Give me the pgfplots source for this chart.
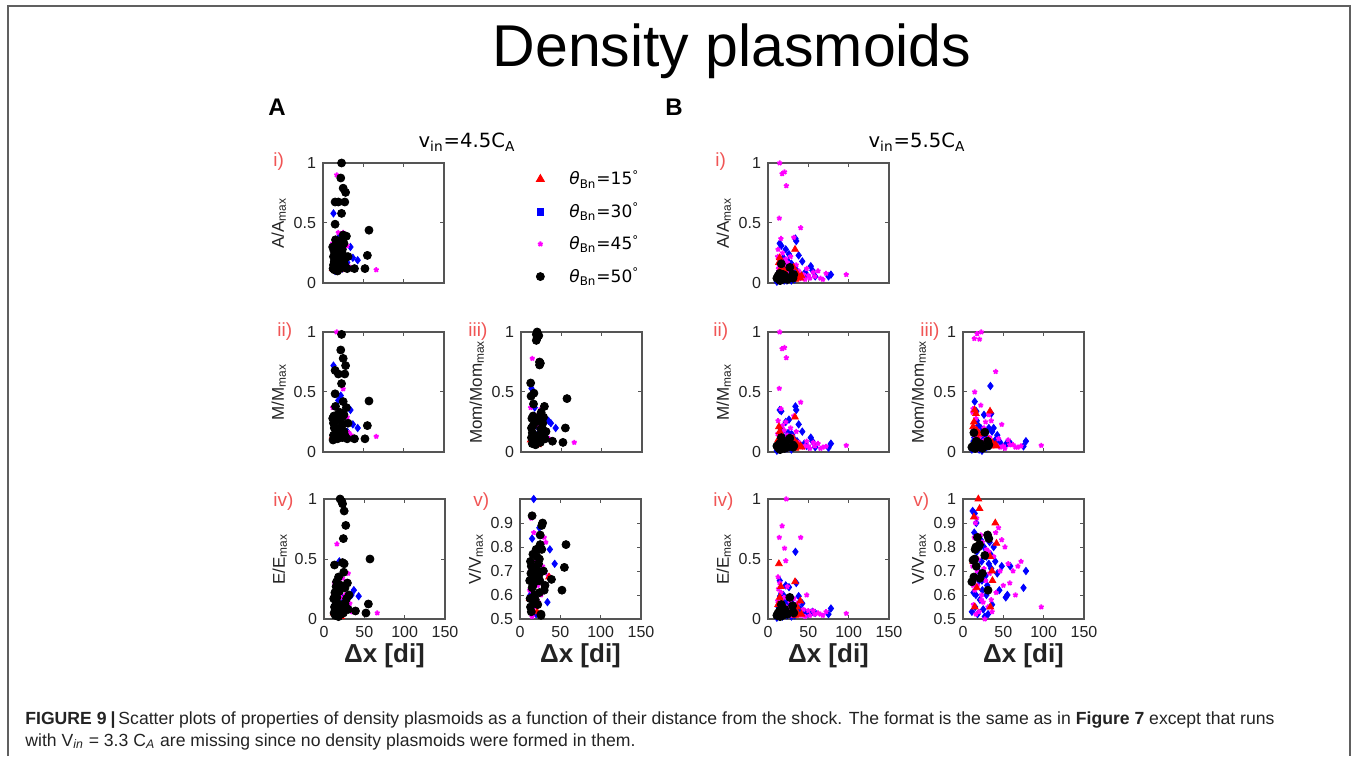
\documentclass[border=0pt]{standalone}
\usepackage{fontspec}
\setmainfont{Liberation Sans}
\newfontfamily\dejavu{DejaVu Sans}
\usepackage{pgfplots}
\usepackage{pgfplotstable}
\pgfplotsset{compat=1.18}

\definecolor{numred}{RGB}{240,85,85}
\definecolor{axgray}{RGB}{85,85,85}
\definecolor{capgray}{RGB}{35,35,35}
\definecolor{mag}{RGB}{255,0,255}
\definecolor{pureblue}{RGB}{0,0,255}
\definecolor{purered}{RGB}{255,0,0}

% columns: dx, A/Amax, M/Mmax, Mom/Mommax, E/Emax, V/Vmax
% ---------- v_in = 4.5 C_A ----------
\pgfplotstableread{
x a m mo e v
12 0.30 0.28 0.575 0.17 0.66
12.5 0.12 0.10 0.465 0.05 0.585
13 0.22 0.24 0.20 0.45 0.74
13 0.15 0.14 0.12 0.10 0.55
13.5 0.27 0.30 0.28 0.22 0.69
14 0.18 0.20 0.16 0.08 0.72
14 0.11 0.12 0.07 0.03 0.53
15 0.675 0.68 0.30 0.27 0.93
15 0.49 0.485 0.22 0.14 0.63
16 0.25 0.26 0.49 0.18 0.77
16 0.13 0.15 0.09 0.06 0.64
17 0.20 0.18 0.14 0.12 0.67
18 0.32 0.31 0.25 0.35 0.60
19 0.675 0.65 0.98 0.23 0.68
19 0.15 0.16 0.93 0.07 0.58
20 0.22 0.20 0.95 0.12 0.72
21 0.12 0.13 0.10 0.04 0.705
21 0.35 0.33 0.27 0.28 0.76
22 0.875 0.85 0.97 0.98 0.66
22 0.17 0.19 0.13 0.09 0.56
23 1.00 0.98 0.75 0.96 0.73
23 0.58 0.57 0.725 0.47 0.68
24 0.28 0.29 0.74 0.67 0.75
24 0.13 0.12 0.08 0.05 0.61
25 0.79 0.78 0.31 0.90 0.85
25 0.40 0.42 0.33 0.46 0.81
26 0.19 0.17 0.15 0.13 0.515
26 0.33 0.31 0.20 0.26 0.52
27 0.675 0.65 0.24 0.78 0.89
28 0.755 0.72 0.29 0.17 0.90
29 0.39 0.37 0.38 0.30 0.70
30 0.12 0.11 0.11 0.08 0.62
31 0.22 0.24 0.17 0.20 0.64
39 0.12 0.11 0.09 0.067 0.665
52 0.12 0.11 0.08 0.05 0.62
55 0.23 0.22 0.20 0.125 0.715
57 0.44 0.425 0.445 0.50 0.81
18 0.10 0.11 0.06 0.02 0.57
20 0.30 0.28 1.00 1.00 0.79
27 0.15 0.14 0.12 0.10 0.79
15.5 0.36 0.38 0.40 0.31 0.70
24.5 0.24 0.23 0.19 0.39 0.66
}\Ablack

\pgfplotstableread{
x a m mo e v
12 0.33 0.37 0.37 0.20 0.62
13 0.25 0.25 0.12 0.30 0.70
14 0.18 0.20 0.78 0.10 0.92
15 0.12 0.12 0.20 0.15 0.51
16 0.28 0.30 0.10 0.625 0.60
17 0.90 1.00 0.15 0.08 0.86
18 0.17 0.19 0.26 0.25 0.74
19 0.42 0.33 0.30 0.12 0.55
20 0.22 0.34 0.11 0.05 0.78
21 0.125 0.15 0.22 0.18 0.73
22 0.30 0.22 0.14 0.27 0.64
23 0.15 0.12 0.09 0.34 0.57
25 0.42 0.525 0.36 0.10 0.66
26 0.20 0.18 0.12 0.20 0.60
28 0.13 0.12 0.15 0.07 0.72
30 0.31 0.29 0.10 0.38 0.84
32 0.14 0.16 0.18 0.13 0.82
35 0.12 0.14 0.11 0.06 0.68
66 0.11 0.13 0.08 0.05 nan
}\Amag

\pgfplotstableread{
x a m mo e v
13 0.58 0.72 0.53 0.12 0.60
15 0.10 0.25 0.30 0.05 0.835
17 0.24 0.20 0.37 0.27 1.00
19 0.375 0.43 0.22 0.48 0.65
20 0.14 0.12 0.12 0.20 0.52
22 0.33 0.47 0.16 0.09 0.745
24 0.12 0.14 0.10 0.16 0.88
30 0.17 0.17 0.14 0.10 0.63
34 0.30 0.35 0.26 0.20 0.57
37 0.21 0.23 0.24 0.24 0.79
43 0.19 0.20 0.20 0.19 0.73
}\Ablue

\pgfplotstableread{
x a m mo e v
12 0.12 0.13 0.10 0.05 0.585
21 0.11 0.12 0.06 0.02 0.53
36 nan nan nan nan 0.675
}\Ared

% ---------- v_in = 5.5 C_A ----------
\pgfplotstableread{
x a m mo e v
12 0.03 0.02 0.04 0.03 0.95
13 0.08 0.06 0.09 0.10 0.61
14.5 0.33 0.35 0.42 0.32 0.94
16.5 0.31 0.34 0.34 0.21 0.90
15 0.18 0.20 0.15 0.19 0.55
17 0.12 0.10 0.26 0.08 0.78
18 0.05 0.04 0.05 0.02 0.52
19 0.21 0.18 0.22 0.20 0.70
20 0.02 0.03 0.02 0.05 0.66
21 0.14 0.12 0.10 0.14 0.58
22 0.28 0.25 0.20 0.28 0.83
23 0.09 0.07 0.12 0.07 0.74
24 0.04 0.05 0.03 0.04 0.62
25 0.18 0.16 0.14 0.12 0.54
26 0.24 0.27 0.31 0.265 0.80
27 0.06 0.08 0.06 0.05 0.51
28 0.11 0.10 0.13 0.09 0.68
29 0.02 0.02 0.04 0.02 0.76
30 0.15 0.14 0.18 0.17 0.64
31 0.07 0.05 0.08 0.06 0.52
32 0.13 0.11 0.20 0.10 0.73
33 0.03 0.04 0.05 0.03 0.82
34 0.37 0.38 0.55 0.56 0.77
35 0.35 0.35 0.32 0.30 0.71
36 0.10 0.09 0.17 0.12 0.56
38 0.23 0.23 0.20 0.19 0.80
40 0.05 0.06 0.10 0.08 0.74
42.5 0.18 0.17 0.14 0.13 0.69
45 0.08 0.07 0.09 0.06 0.62
48 0.07 0.05 0.06 0.04 0.72
53 0.14 0.12 0.06 0.05 0.59
55 0.105 0.09 0.08 0.06 0.60
58.5 0.055 0.04 0.075 0.05 0.72
75 0.055 0.035 0.047 0.04 0.63
78 0.07 0.07 0.09 0.088 0.70
11 0.01 0.01 0.02 0.01 0.53
23.5 0.02 0.03 0.01 0.03 0.66
16 0.06 0.05 0.07 0.04 0.60
14 0.10 0.08 0.12 0.15 0.86
29 0.16 0.15 0.16 0.14 0.60
}\Bblue

\pgfplotstableread{
x a m mo e v
14.5 1.00 1.00 0.50 0.30 0.62
17.5 0.91 0.86 0.985 0.775 0.70
20.5 0.925 0.87 0.94 0.59 0.80
22.7 0.81 0.785 1.00 1.00 0.58
14 0.54 0.53 0.945 0.68 0.66
40.5 0.46 0.415 0.67 0.68 0.86
16 0.37 0.36 0.28 0.22 0.52
32 0.38 0.30 0.31 0.17 0.78
97 0.07 0.055 0.055 0.047 0.55
72 0.08 0.047 0.05 0.06 0.74
62 0.10 0.07 0.06 0.05 0.70
58 0.055 0.05 0.06 0.04 0.65
22 0.20 0.25 0.39 0.485 0.85
48 0.12 0.09 0.23 0.20 0.83
12 0.22 0.15 0.33 0.15 0.72
13 0.12 0.10 0.20 0.25 0.56
15.5 0.08 0.12 0.10 0.08 0.90
18 0.25 0.22 0.18 0.12 0.64
19 0.06 0.05 0.07 0.04 0.75
20 0.15 0.18 0.12 0.18 0.53
21 0.03 0.02 0.04 0.03 0.68
23 0.10 0.09 0.15 0.10 0.60
24 0.17 0.14 0.08 0.27 0.82
25 0.04 0.05 0.05 0.05 0.57
26 0.12 0.11 0.20 0.08 0.71
27 0.07 0.06 0.10 0.15 0.50
28 0.22 0.20 0.25 0.03 0.66
29 0.05 0.04 0.06 0.10 0.79
30 0.10 0.13 0.09 0.05 0.62
31 0.03 0.03 0.04 0.06 0.55
33 0.08 0.07 0.12 0.09 0.69
35 0.15 0.17 0.26 0.12 0.58
36 0.05 0.04 0.07 0.04 0.53
38 0.10 0.08 0.06 0.14 0.76
41 0.04 0.05 0.06 0.03 0.61
44 0.07 0.04 0.11 0.08 0.88
46 0.03 0.05 0.04 0.02 0.70
50 0.06 0.05 0.05 0.07 0.64
52 0.04 0.03 0.03 0.03 0.80
56 0.09 0.08 0.10 0.07 0.73
65 0.04 0.03 0.04 0.04 0.60
68 0.03 0.04 0.04 0.03 0.72
12.5 0.28 0.26 0.36 0.35 0.64
17 0.02 0.03 0.02 0.02 0.92
14 0.14 0.16 0.14 0.12 0.84
}\Bmag

\pgfplotstableread{
x a m mo e v
13.5 0.17 0.21 0.25 0.46 0.925
14.5 0.21 0.17 0.35 0.18 0.55
33.5 0.28 0.29 0.34 0.31 0.76
16 0.12 0.15 0.32 0.27 0.80
12.5 0.08 0.10 0.21 0.12 0.74
19 0.05 0.06 0.10 0.05 1.00
20.5 0.10 0.09 0.15 0.08 0.96
40 0.04 0.05 0.06 0.15 0.90
41.5 0.06 0.04 0.05 0.04 0.815
31.5 0.13 0.11 0.10 0.06 0.85
36 0.08 0.07 0.08 0.10 0.70
34 0.03 0.03 0.05 0.03 0.55
17 0.15 0.13 0.18 0.14 0.63
36.5 0.05 0.06 0.07 0.05 0.66
}\Bred

\pgfplotstableread{
x a m mo e v
11 0.04 0.05 0.04 0.03 0.655
12.5 0.06 0.04 0.05 0.05 0.745
13.5 0.03 0.03 0.16 0.04 0.675
14.5 0.08 0.07 0.06 0.07 0.75
16 0.05 0.06 0.055 0.06 0.80
16.5 0.16 0.12 0.09 0.12 0.72
18 0.03 0.04 0.04 0.03 0.84
19 0.07 0.05 0.06 0.05 0.80
20.5 0.04 0.03 0.05 0.04 0.81
21 0.06 0.08 0.07 0.08 0.67
24 0.03 0.04 0.03 0.04 0.69
27 0.13 0.115 0.165 0.18 0.765
30.5 0.07 0.06 0.09 0.11 0.85
32 0.07 0.05 0.06 0.05 0.835
31 0.04 0.04 0.05 0.06 0.62
15 0.02 0.02 0.03 0.02 0.79
}\Bblack

\pgfplotsset{
  panel/.style={
    scale only axis, width=60.5pt, height=60pt, anchor=south west,
    xmin=0, xmax=150, xtick={0,50,100,150},
    ymin=0, ymax=1, ytick={0,0.5,1}, yticklabels={0,0.5,1},
    tick align=inside, major tick length=2pt,
    axis line style={axgray, line width=0.6pt},
    tick style={axgray, line width=0.5pt},
    tick label style={font=\fontsize{8}{9.5}\selectfont, text=capgray},
    ylabel style={font=\fontsize{8.5}{10}\selectfont, text=capgray},
    ylabel shift=-3pt,
    xlabel style={font=\fontsize{13}{15}\selectfont\bfseries, text=capgray,
      at={(axis description cs:0.5,0)}, anchor=center, yshift=-18.5pt},
    /pgf/number format/assume math mode=true,
    clip marker paths=false,
  },
  nox/.style={xticklabels={}},
  vpanel/.style={ymin=0.5, ymax=1},
  s15/.style={only marks, mark=triangle*, mark size=1.9pt, color=purered},
  s30/.style={only marks, mark=diamond*, mark size=1.8pt, color=pureblue},
  s45/.style={only marks, mark=star, mark size=1.3pt, color=mag, mark options={line width=0.9pt}},
  s50/.style={only marks, mark=*, mark size=2pt, color=black},
}

\newcommand\plotA[1]{%
  \addplot[s30] table[x=x,y=#1]{\Ablue};
  \addplot[s45] table[x=x,y=#1]{\Amag};
  \addplot[s15] table[x=x,y=#1]{\Ared};
  \addplot[s50] table[x=x,y=#1]{\Ablack};
}
\newcommand\plotB[1]{%
  \addplot[s30] table[x=x,y=#1]{\Bblue};
  \addplot[s45] table[x=x,y=#1]{\Bmag};
  \addplot[s15] table[x=x,y=#1]{\Bred};
  \addplot[s50] table[x=x,y=#1]{\Bblack};
}
\newcommand\thl[1]{{\itshape θ}\textsubscript{Bn}=#1\textsuperscript{°}}
\newcommand\dxlabel{Δx [di]}

\begin{document}
\begin{tikzpicture}
\useasboundingbox (0,0) rectangle (677pt,378pt);
\draw[gray!75!black, line width=0.7pt] (4pt,0) -- (4pt,375pt) -- (675pt,375pt) -- (675pt,0);

\node[anchor=base, inner sep=0, font=\fontsize{29.5}{34}\selectfont] at (366pt,344.5pt) {Density plasmoids};
\node[anchor=base west, inner sep=0, font=\fontsize{12}{14}\selectfont\bfseries] at (134pt,320pt) {A};
\node[anchor=base west, inner sep=0, font=\fontsize{12}{14}\selectfont\bfseries] at (332.5pt,320pt) {B};
\node[anchor=base, inner sep=0, font=\dejavu\fontsize{9.8}{11}\selectfont] at (233.5pt,304pt) {v\textsubscript{in}=4.5C\textsubscript{A}};
\node[anchor=base, inner sep=0, font=\dejavu\fontsize{9.8}{11}\selectfont] at (458.5pt,304pt) {v\textsubscript{in}=5.5C\textsubscript{A}};

% panel numerals
\begin{scope}[every node/.style={anchor=west, inner sep=0, text=numred, font=\fontsize{9.5}{11}\selectfont}]
\node at (136.5pt,297pt) {i)};
\node at (138.5pt,212pt) {ii)};
\node at (234pt,212pt) {iii)};
\node at (136.5pt,127pt) {iv)};
\node at (236.5pt,127pt) {v)};
\node at (357.5pt,297pt) {i)};
\node at (356.5pt,212pt) {ii)};
\node at (460pt,212pt) {iii)};
\node at (356.5pt,127pt) {iv)};
\node at (456.5pt,127pt) {v)};
\end{scope}

% ---- column A ----
\begin{axis}[panel, nox, at={(161.5pt,236.5pt)}, ylabel={A/A\textsubscript{max}},
  legend style={at={(1.76,0.975)}, anchor=north west, draw=none, fill=none, inner sep=0pt,
    font=\dejavu\fontsize{8.5}{10}\selectfont, row sep=3.5pt,
    /tikz/every odd column/.append style={column sep=10.5pt}},
  legend cell align=left]
\addlegendimage{s15, mark size=2.3pt}
\addlegendimage{s30, mark=square*, mark size=1.7pt}
\addlegendimage{s45}
\addlegendimage{s50}
\plotA{a}
\legend{\thl{15},\thl{30},\thl{45},\thl{50}}
\end{axis}

\begin{axis}[panel, nox, at={(161.5pt,152pt)}, ylabel={M/M\textsubscript{max}}]
\plotA{m}
\end{axis}
\begin{axis}[panel, nox, at={(260.5pt,152pt)}, ylabel={Mom/Mom\textsubscript{max}}]
\plotA{mo}
\end{axis}
\begin{axis}[panel, at={(162pt,68.5pt)}, ylabel={E/E\textsubscript{max}}, xlabel={\dxlabel}]
\plotA{e}
\end{axis}
\begin{axis}[panel, vpanel, at={(260pt,68.5pt)}, ylabel={V/V\textsubscript{max}}, xlabel={\dxlabel},
  ytick={0.5,0.6,0.7,0.8,0.9}, yticklabels={0.5,0.6,0.7,0.8,0.9}]
\plotA{v}
\end{axis}

% ---- column B ----
\begin{axis}[panel, nox, at={(384pt,236.5pt)}, ylabel={A/A\textsubscript{max}}]
\plotB{a}
\end{axis}
\begin{axis}[panel, nox, at={(384pt,152pt)}, ylabel={M/M\textsubscript{max}}]
\plotB{m}
\end{axis}
\begin{axis}[panel, nox, at={(481.5pt,152pt)}, ylabel={Mom/Mom\textsubscript{max}}]
\plotB{mo}
\end{axis}
\begin{axis}[panel, at={(384pt,68.5pt)}, ylabel={E/E\textsubscript{max}}, xlabel={\dxlabel}]
\plotB{e}
\end{axis}
\begin{axis}[panel, vpanel, at={(481.5pt,68.5pt)}, ylabel={V/V\textsubscript{max}}, xlabel={\dxlabel},
  ytick={0.5,0.6,0.7,0.8,0.9,1}, yticklabels={0.5,0.6,0.7,0.8,0.9,1}]
\plotB{v}
\end{axis}

% caption
\node[anchor=base west, inner sep=0, font=\fontsize{8.8}{10}\selectfont, text=capgray] at (12.5pt,16pt)
  {\textbf{FIGURE 9}\hspace{2pt}\textbf{|}\hspace{1.5pt}Scatter plots of properties of density plasmoids as a function of their distance from the shock. The format is the same as in \textbf{Figure 7} except that runs};
\node[anchor=base west, inner sep=0, font=\fontsize{8.8}{10}\selectfont, text=capgray] at (12.5pt,5pt)
  {with V\textsubscript{\textit{in}} = 3.3 C\textsubscript{\textit{A}} are missing since no density plasmoids were formed in them.};
\end{tikzpicture}
\end{document}
